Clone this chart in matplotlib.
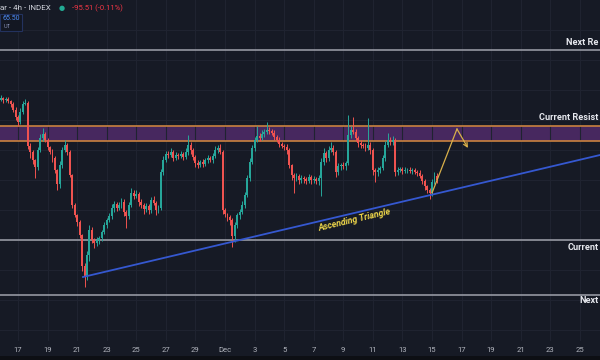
import matplotlib
matplotlib.use("Agg")
import matplotlib.pyplot as plt
import matplotlib.dates as mdates
from matplotlib.patches import Rectangle
import numpy as np
import pandas as pd


# 4h candles (price in thousand USD), first candle opens Nov 15 16:00
FIRST_CANDLE = "2025-11-15 16:00"
first_open = 96.3
closes = [
    96.0, 96.2, 96.0, 96.1, 95.9, 95.6, 95.0, 94.3, 93.8, 94.8,
    95.6, 95.7, 91.4, 90.8, 90.0, 89.3, 91.0, 92.2, 92.6, 92.0,
    91.3, 90.8, 90.2, 89.0, 87.6, 89.5, 91.0, 91.5, 90.8, 88.5,
    85.5, 84.5, 83.8, 82.5, 79.4, 78.4, 80.5, 83.0, 82.0, 81.7,
    82.0, 82.2, 82.8, 83.5, 84.0, 84.4, 85.2, 85.6, 85.2, 85.5,
    85.8, 84.8, 84.4, 85.5, 86.7, 86.4, 86.6, 85.8, 85.5, 85.1,
    85.4, 85.0, 86.0, 85.7, 85.0, 85.2, 88.8, 90.0, 90.6, 90.5,
    90.8, 90.2, 90.5, 90.4, 90.6, 90.3, 90.8, 91.5, 91.0, 90.3,
    89.7, 89.5, 89.8, 89.6, 90.0, 90.2, 90.0, 90.4, 91.0, 91.2,
    90.8, 85.0, 84.6, 84.3, 84.0, 82.4, 83.5, 84.5, 84.8, 85.5,
    86.5, 88.2, 89.8, 91.2, 92.0, 92.4, 92.2, 92.6, 92.8, 93.0,
    92.9, 92.7, 92.3, 92.0, 91.6, 91.4, 91.3, 91.0, 89.5, 88.5,
    88.2, 88.4, 88.0, 88.2, 88.1, 87.9, 88.3, 88.0, 88.1, 87.9,
    88.2, 89.8, 90.7, 90.2, 91.0, 91.2, 90.8, 88.8, 89.4, 89.5,
    89.4, 89.7, 92.5, 93.0, 92.8, 92.2, 91.7, 91.5, 91.4, 91.2,
    91.5, 91.0, 89.0, 88.8, 89.0, 89.2, 90.2, 91.5, 92.0, 91.8,
    92.0, 88.8, 89.0, 89.1, 88.9, 89.0, 89.0, 88.9, 89.0, 88.8,
    88.7, 88.4, 87.9, 87.4, 87.0, 86.7, 87.8, 88.4, 88.0,
]
# wick lengths above / below the body
wick_up = [
    0.2, 0.3, 0.1, 0.2, 0.2, 0.1, 0.2, 0.3, 0.2, 0.4,
    0.3, 0.4, 0.2, 0.3, 0.2, 0.1, 0.3, 0.4, 0.6, 0.2,
    0.2, 0.1, 0.3, 0.2, 0.1, 0.4, 0.3, 0.5, 0.2, 0.2,
    0.1, 0.2, 0.1, 0.2, 0.1, 0.3, 0.4, 0.5, 0.3, 0.2,
    0.3, 0.2, 0.2, 0.3, 0.2, 0.3, 0.4, 0.3, 0.2, 0.3,
    0.4, 0.3, 0.2, 0.3, 0.5, 0.3, 0.4, 0.2, 0.3, 0.2,
    0.3, 0.2, 0.3, 0.4, 0.2, 0.3, 0.3, 0.4, 0.3, 0.3,
    0.4, 0.2, 0.3, 0.2, 0.3, 0.2, 0.4, 1.0, 0.3, 0.2,
    0.2, 0.3, 0.2, 0.3, 0.2, 0.3, 0.2, 0.3, 0.4, 0.3,
    0.4, 0.2, 0.2, 0.1, 0.2, 0.2, 0.3, 0.2, 0.3, 0.4,
    0.3, 0.3, 0.4, 0.3, 0.3, 1.0, 0.3, 0.4, 0.3, 0.8,
    0.3, 0.2, 0.3, 0.2, 0.3, 0.2, 0.2, 0.3, 0.2, 0.1,
    0.2, 0.3, 0.2, 0.3, 0.2, 0.2, 0.3, 0.2, 0.3, 0.2,
    0.3, 0.4, 0.5, 0.2, 0.4, 0.6, 0.3, 0.2, 0.3, 0.2,
    0.3, 0.2, 2.0, 0.4, 1.3, 0.3, 0.2, 0.3, 0.2, 0.3,
    2.7, 0.3, 0.2, 0.2, 0.3, 0.2, 0.3, 0.4, 0.7, 0.3,
    0.4, 0.2, 0.3, 0.2, 0.2, 0.3, 0.2, 0.3, 0.2, 0.2,
    0.2, 0.3, 0.2, 0.2, 0.1, 0.2, 0.3, 0.4, 0.3,
]
wick_dn = [
    0.2, 0.1, 0.3, 0.2, 0.2, 0.3, 0.2, 0.3, 0.4, 0.2,
    0.2, 0.1, 0.3, 0.6, 0.4, 1.1, 0.3, 0.2, 0.3, 0.2,
    0.3, 0.2, 0.4, 0.3, 0.6, 0.4, 0.3, 0.2, 0.3, 0.2,
    0.3, 0.2, 0.4, 0.3, 0.5, 1.1, 0.4, 0.6, 0.3, 0.5,
    0.3, 0.4, 0.3, 0.2, 0.3, 0.2, 0.3, 0.4, 0.3, 0.2,
    0.3, 0.4, 1.2, 0.3, 0.2, 0.3, 0.2, 0.4, 0.3, 0.5,
    0.3, 0.4, 0.3, 0.2, 0.5, 0.3, 0.2, 0.3, 0.2, 0.3,
    0.2, 0.3, 0.2, 0.3, 0.2, 0.3, 0.2, 0.3, 0.4, 0.3,
    0.4, 0.3, 0.2, 0.3, 0.2, 0.3, 0.2, 0.3, 0.2, 0.3,
    0.2, 0.4, 0.3, 0.4, 0.5, 1.1, 0.6, 0.3, 0.4, 0.2,
    0.3, 0.2, 0.3, 0.2, 0.3, 0.2, 0.3, 0.2, 0.3, 0.2,
    0.3, 0.2, 0.3, 0.2, 0.3, 0.2, 0.3, 0.4, 0.3, 0.5,
    1.5, 0.3, 0.4, 0.3, 0.4, 0.3, 0.2, 0.4, 0.3, 0.3,
    0.4, 1.8, 0.3, 0.4, 0.3, 0.2, 0.3, 0.5, 0.3, 0.4,
    0.3, 0.4, 0.2, 0.3, 0.2, 0.3, 0.4, 0.3, 0.2, 0.3,
    0.2, 0.4, 0.5, 1.0, 0.4, 0.3, 0.2, 0.3, 0.2, 0.3,
    0.3, 0.4, 0.3, 0.2, 0.3, 0.2, 0.3, 0.2, 0.3, 0.2,
    0.3, 0.2, 0.3, 0.4, 0.3, 0.6, 0.3, 0.2, 0.3,
]

# drawn levels
next_resistance = 101.0
resistance_zone = (91.9, 93.4)
current_support = 82.0
next_support = 76.5

# level captions, as far as the screen shows them
level_labels = ["Next Re", "Current Resist", "Current", "Next"]
level_label_prices = [101.7, 94.3, 81.3, 75.9]

# ascending triangle support line and projected path
trend_dates = ["2025-11-21 09:30", "2025-12-26 08:40"]
trend_prices = [78.3, 90.5]
path_dates = ["2025-12-15 00:00", "2025-12-16 16:30", "2025-12-17 10:20"]
path_prices = [86.7, 93.1, 91.2]

tick_labels = ["17", "19", "21", "23", "25", "27", "29", "Dec", "3", "5",
               "7", "9", "11", "13", "15", "17", "19", "21", "23", "25"]

BG = "#161a25"
UP = "#26a69a"
DOWN = "#ef5350"

plt.rcParams["font.family"] = ["Roboto", "DejaVu Sans"]


def main() -> None:
    opens = np.array([first_open] + closes[:-1])
    c = np.array(closes)
    highs = np.maximum(opens, c) + np.array(wick_up)
    lows = np.minimum(opens, c) - np.array(wick_dn)
    times = mdates.date2num(pd.date_range(FIRST_CANDLE, periods=len(c), freq="4h"))
    colors = np.where(c >= opens, UP, DOWN)

    fig = plt.figure(figsize=(6, 3.6), dpi=100, facecolor=BG)
    ax = fig.add_axes([0, 19 / 360, 1, 341 / 360])
    ax.set_facecolor(BG)

    # grid
    tick_pos = mdates.date2num(pd.date_range("2025-11-17", "2025-12-25", freq="2D"))
    ax.set_xticks(tick_pos)
    ax.set_xticklabels(tick_labels)
    ax.set_yticks(np.arange(73, 106, 3))
    ax.grid(True, color="#1f2330", linewidth=0.8)
    ax.tick_params(axis="y", left=False, labelleft=False)
    ax.tick_params(axis="x", length=0, pad=4, labelsize=5.5, labelcolor="#b2b5be")
    for sp in ax.spines.values():
        sp.set_visible(False)

    # levels
    ax.axhspan(*resistance_zone, color="#47285f", zorder=1, linewidth=0)
    for lvl in resistance_zone:
        ax.axhline(lvl, color="#c9823f", linewidth=1.2, zorder=2)
    for lvl in (next_resistance, current_support, next_support):
        ax.axhline(lvl, color="#9598a1", linewidth=1.2, zorder=2)

    # candles
    ax.vlines(times, lows, highs, colors=colors, linewidth=0.7, zorder=3)
    ax.bar(times, c - opens, bottom=opens, width=0.13, color=colors,
           linewidth=0, zorder=4)

    # trend line and projection
    td = mdates.date2num(pd.to_datetime(trend_dates))
    ax.plot(td, trend_prices, color="#3558d0", linewidth=1.3, zorder=5)
    pth = mdates.date2num(pd.to_datetime(path_dates))
    ax.plot(pth[:2], path_prices[:2], color="#d9b04a", linewidth=0.9, zorder=5)
    ax.annotate("", xy=(pth[2], path_prices[2]), xytext=(pth[1], path_prices[1]),
                arrowprops=dict(arrowstyle="->", color="#d9b04a", lw=0.9,
                                mutation_scale=7, shrinkA=0, shrinkB=0),
                zorder=5)
    ax.text(mdates.date2num(pd.Timestamp("2025-12-09 19:00")), 84.0,
            "Ascending Triangle", color="#f0d84a", fontsize=6.3,
            fontweight="bold", fontstyle="italic", rotation=13.3,
            ha="center", va="center", rotation_mode="anchor", zorder=6)

    # level captions, right-aligned at the edge
    trans = ax.get_yaxis_transform()
    for s, y in zip(level_labels, level_label_prices):
        ax.text(0.998, y, s, transform=trans, color="#e6e8ee", fontsize=6.6,
                fontweight="semibold", ha="right", va="center")

    ax.set_xlim(mdates.date2num(pd.Timestamp("2025-11-15 18:48")),
                mdates.date2num(pd.Timestamp("2025-12-26 08:38")))
    ax.set_ylim(71.9, 106.0)

    # header strip
    fig.text(0.0, 1 - 8 / 360, "ar - 4h - INDEX", color="#d1d4dc", fontsize=5.8,
             ha="left", va="center")
    fig.text(62 / 600, 1 - 8 / 360, "●", color="#22ab94", fontsize=5,
             ha="center", va="center", family="DejaVu Sans")
    fig.text(72 / 600, 1 - 8 / 360, "-95.51 (-0.11%)", color="#f23645",
             fontsize=5.5, ha="left", va="center")
    fig.add_artist(Rectangle((0, 1 - 31 / 360), 22 / 600, 17 / 360,
                             transform=fig.transFigure, facecolor="#131722",
                             edgecolor="#23325e", linewidth=0.8))
    fig.text(11 / 600, 1 - 19 / 360, "65.50", color="#4d8bf5", fontsize=5,
             ha="center", va="center")
    fig.text(7 / 600, 1 - 27 / 360, "UT", color="#8a93b8", fontsize=4,
             ha="center", va="center")

    # bottom edge
    fig.add_artist(Rectangle((0, 0), 1, 4 / 360, transform=fig.transFigure,
                             facecolor="#0d0f14", linewidth=0))

    fig.savefig("out.png", dpi=100, facecolor=BG)


if __name__ == "__main__":
    main()
